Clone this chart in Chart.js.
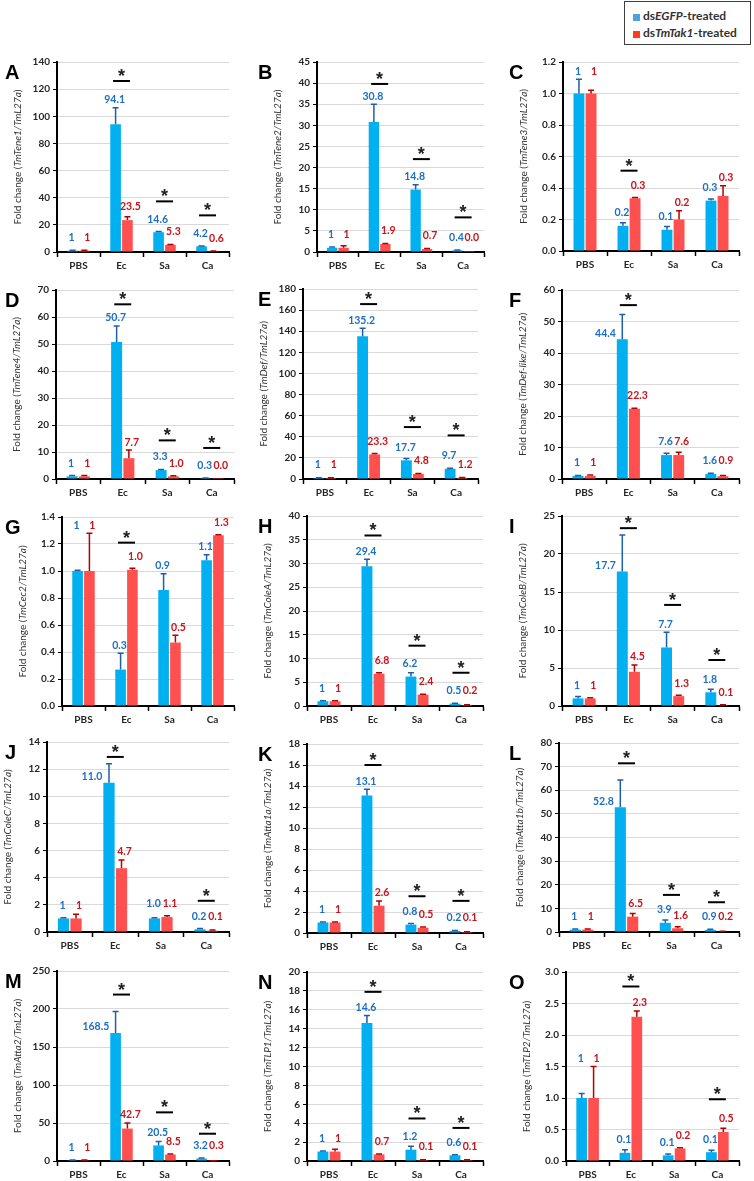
<!DOCTYPE html>
<html>
<head>
<meta charset="utf-8">
<title>Fold change of AMP genes</title>
<script src="https://cdn.jsdelivr.net/npm/chart.js@4.4.0/dist/chart.umd.min.js"></script>
<style>
  body { margin: 0; background: #fff; width: 754px; height: 1181px; position: relative; overflow: hidden; }
  canvas { position: absolute; }
  .letter { position: absolute; font: bold 20px "Liberation Sans", Arial, sans-serif; line-height: 20px; color: #000; }
  #legend { position: absolute; left: 624px; top: 1px; width: 125px; height: 42px; border: 1.5px solid #404040; font: bold 12px Lato, sans-serif; color: #333; }
  #legend .sw { position: absolute; left: 8px; width: 7px; height: 7px; }
  #legend .tx { position: absolute; left: 18px; line-height: 14px; white-space: nowrap; }
  #legend i { font-style: italic; }
</style>
</head>
<body>
<div id="legend">
  <div class="sw" style="top:12px;background:#4aa3e0"></div>
  <div class="tx" style="top:7px">ds<i>EGFP</i>-treated</div>
  <div class="sw" style="top:29px;background:#ff3b1f"></div>
  <div class="tx" style="top:24px">ds<i>TmTak1</i>-treated</div>
</div>
<script>
// Data
const categories = ['PBS', 'Ec', 'Sa', 'Ca'];
const panelLetters = ['A', 'B', 'C', 'D', 'E', 'F', 'G', 'H', 'I', 'J', 'K', 'L', 'M', 'N', 'O'];
const genes = ['TmTene1', 'TmTene2', 'TmTene3', 'TmTene4', 'TmDef', 'TmDef-like', 'TmCec2', 'TmColeA',
    'TmColeB', 'TmColeC', 'TmAtta1a', 'TmAtta1b', 'TmAtta2', 'TmTLP1', 'TmTLP2'];
const axisMax = [140, 45, 1.2, 70, 180, 60, 1.4, 40, 25, 14, 18, 80, 250, 20, 3.0];
const axisStep = [20, 5, 0.2, 10, 20, 10, 0.2, 5, 5, 2, 2, 10, 50, 2, 0.5];

// dsEGFP-treated (blue)
const egfpMean = [
    [1, 94.1, 14.6, 4.2],    // A
    [1, 30.8, 14.8, 0.4],    // B
    [1, 0.16, 0.135, 0.32],  // C
    [1, 50.7, 3.3, 0.3],     // D
    [1, 135.2, 17.7, 9.7],   // E
    [1, 44.4, 7.6, 1.6],     // F
    [1, 0.27, 0.86, 1.08],   // G
    [1, 29.4, 6.2, 0.5],     // H
    [1, 17.7, 7.7, 1.8],     // I
    [1, 11.0, 1.0, 0.2],     // J
    [1, 13.1, 0.8, 0.2],     // K
    [1, 52.8, 3.9, 0.9],     // L
    [1, 168.5, 20.5, 3.2],   // M
    [1, 14.6, 1.2, 0.6],     // N
    [1, 0.13, 0.09, 0.14],   // O
];
const egfpSD = [
    [0.3, 12.2, 0.5, 0.3],
    [0.2, 4.2, 1.1, 0.1],
    [0.09, 0.02, 0.02, 0.01],
    [0.3, 6.0, 0.2, 0.1],
    [0.3, 7.5, 1.8, 0.5],
    [0.1, 7.8, 0.6, 0.2],
    [0.005, 0.12, 0.12, 0.04],
    [0.1, 1.5, 0.8, 0.1],
    [0.25, 4.8, 2.0, 0.4],
    [0.05, 1.4, 0.05, 0.05],
    [0.05, 0.6, 0.1, 0.03],
    [0.3, 11.5, 1.2, 0.3],
    [0.3, 28.3, 5.3, 0.8],
    [0.05, 0.8, 0.35, 0.05],
    [0.07, 0.05, 0.02, 0.03],
];
const egfpText = [
    ['1', '94.1', '14.6', '4.2'],
    ['1', '30.8', '14.8', '0.4'],
    ['1', '0.2', '0.1', '0.3'],
    ['1', '50.7', '3.3', '0.3'],
    ['1', '135.2', '17.7', '9.7'],
    ['1', '44.4', '7.6', '1.6'],
    ['1', '0.3', '0.9', '1.1'],
    ['1', '29.4', '6.2', '0.5'],
    ['1', '17.7', '7.7', '1.8'],
    ['1', '11.0', '1.0', '0.2'],
    ['1', '13.1', '0.8', '0.2'],
    ['1', '52.8', '3.9', '0.9'],
    ['1', '168.5', '20.5', '3.2'],
    ['1', '14.6', '1.2', '0.6'],
    ['1', '0.1', '0.1', '0.1'],
];

// dsTmTak1-treated (red)
const tak1Mean = [
    [1, 23.5, 5.3, 0.6],
    [1, 1.9, 0.7, 0.02],
    [1, 0.335, 0.2, 0.35],
    [1, 7.7, 1.0, 0.04],
    [1, 23.3, 4.8, 1.2],
    [1, 22.3, 7.6, 0.9],
    [1, 1.01, 0.47, 1.265],
    [1, 6.8, 2.4, 0.2],
    [1, 4.5, 1.3, 0.1],
    [1, 4.7, 1.1, 0.1],
    [1, 2.6, 0.5, 0.1],
    [1, 6.5, 1.6, 0.2],
    [1, 42.7, 8.5, 0.3],
    [1, 0.7, 0.1, 0.1],
    [1, 2.29, 0.2, 0.46],
];
const tak1SD = [
    [0.3, 2.5, 0.3, 0.2],
    [0.5, 0.1, 0.1, 0],
    [0.02, 0.005, 0.055, 0.065],
    [0.3, 3.0, 0.2, 0],
    [0.2, 0.8, 0.5, 0.3],
    [0.3, 0.2, 0.9, 0.2],
    [0.28, 0.01, 0.055, 0.003],
    [0.1, 0.2, 0.1, 0.05],
    [0.1, 0.9, 0.1, 0.05],
    [0.3, 0.6, 0.1, 0.05],
    [0.05, 0.45, 0.08, 0.02],
    [0.3, 1.3, 0.6, 0.1],
    [0.3, 7.3, 0.8, 0.1],
    [0.25, 0.05, 0.02, 0.02],
    [0.5, 0.09, 0.01, 0.06],
];
const tak1Text = [
    ['1', '23.5', '5.3', '0.6'],
    ['1', '1.9', '0.7', '0.0'],
    ['1', '0.3', '0.2', '0.3'],
    ['1', '7.7', '1.0', '0.0'],
    ['1', '23.3', '4.8', '1.2'],
    ['1', '22.3', '7.6', '0.9'],
    ['1', '1.0', '0.5', '1.3'],
    ['1', '6.8', '2.4', '0.2'],
    ['1', '4.5', '1.3', '0.1'],
    ['1', '4.7', '1.1', '0.1'],
    ['1', '2.6', '0.5', '0.1'],
    ['1', '6.5', '1.6', '0.2'],
    ['1', '42.7', '8.5', '0.3'],
    ['1', '0.7', '0.1', '0.1'],
    ['1', '2.3', '0.2', '0.5'],
];

// height of the significance bar (*), null = not significant
const sigLevel = [
    [null, 126, 37.3, 27],
    [null, 39.8, 22, 8.2],
    [null, 0.51, null, null],
    [null, 64.7, 14.3, 11.5],
    [null, 165.7, 49.2, 41.3],
    [null, 55.2, null, null],
    [null, 1.21, null, null],
    [null, 35.9, 12.7, 7.0],
    [null, 23.4, 13.3, 6.05],
    [null, 12.9, null, 2.3],
    [null, 16.0, 3.5, 3.06],
    [null, 71.4, 15.7, 12.6],
    [null, 219, 64, 35.9],
    [null, 17.9, 4.5, 3.5],
    [null, 2.77, null, 0.98],
];

// plot area of every panel: left, right, top, bottom
const boxes = [
    [57, 229, 62, 252], [317, 484, 62, 252], [563, 739, 62, 251],
    [56, 234, 290, 479], [303, 478, 289, 479], [562, 739, 290, 479],
    [62, 234, 517, 706], [307, 483, 516, 706], [562, 739, 516, 706],
    [47, 229, 742, 932], [307, 483, 744, 933], [559, 739, 743, 932],
    [57, 229, 971, 1161], [307, 483, 972, 1161], [566, 739, 972, 1161],
];
const letterX = [5, 258, 509];

const ML = 46, PR = 8, PT = 12, MB = 26;
const FONT = 'Lato, sans-serif';

// error bars, value labels, stars and y title
const decor = {
    id: 'decor',
    afterDatasetsDraw(chart, args, opts) {
        const p = opts.panel;
        const ctx = chart.ctx;
        const y = chart.scales.y;
        const x = chart.scales.x;
        const series = [
            { mean: egfpMean[p], sd: egfpSD[p], text: egfpText[p], err: '#1f5fa8', txt: '#1c6fc6', dx: -1 },
            { mean: tak1Mean[p], sd: tak1SD[p], text: tak1Text[p], err: '#b40000', txt: '#c8141c', dx: 3 },
        ];
        // where the labels go
        const pos = series.map((s, d) => chart.getDatasetMeta(d).data.map((bar, i) => {
            const top = y.getPixelForValue(s.mean[i]);
            const errTop = y.getPixelForValue(s.mean[i] + s.sd[i]);
            return { bar, top, errTop, ly: Math.min(top - 13, errTop - 8), lx: bar.x + s.dx, align: 'center' };
        }));
        categories.forEach((c, i) => {
            const a = pos[0][i], b = pos[1][i];
            if (Math.abs(a.top - b.top) < 3) {
                a.ly = b.ly = Math.min(a.ly, b.ly);
            }
            const sig = sigLevel[p][i];
            if (sig === null) return;
            const sy = y.getPixelForValue(sig);
            [a, b].forEach((q) => {
                if (q.ly < sy + 10) {
                    q.ly = q.top - 6;
                    q.lx = q.bar.x - q.bar.width / 2 - 1;
                    q.align = 'right';
                }
            });
        });

        ctx.save();
        series.forEach((s, d) => {
            pos[d].forEach((q, i) => {
                if (s.sd[i] > 0) {
                    ctx.strokeStyle = s.err;
                    ctx.lineWidth = 1.5;
                    ctx.beginPath();
                    ctx.moveTo(q.bar.x, q.top);
                    ctx.lineTo(q.bar.x, q.errTop);
                    ctx.moveTo(q.bar.x - 3, q.errTop);
                    ctx.lineTo(q.bar.x + 3, q.errTop);
                    ctx.stroke();
                }
                ctx.fillStyle = s.txt;
                ctx.font = 'bold 10.5px ' + FONT;
                ctx.textAlign = q.align;
                ctx.textBaseline = 'middle';
                ctx.fillText(s.text[i], q.lx, q.ly);
            });
        });
        sigLevel[p].forEach((v, i) => {
            if (v === null) return;
            const cx = x.getPixelForValue(i);
            const cy = y.getPixelForValue(v);
            ctx.strokeStyle = '#000';
            ctx.lineWidth = 2;
            ctx.beginPath();
            ctx.moveTo(cx - 8.5, cy);
            ctx.lineTo(cx + 8.5, cy);
            ctx.stroke();
            ctx.fillStyle = '#222';
            ctx.font = 'bold 18px "Liberation Sans", Arial, sans-serif';
            ctx.textAlign = 'center';
            ctx.textBaseline = 'alphabetic';
            ctx.fillText('*', cx, cy + 1);
        });
        ctx.restore();
    },
    afterDraw(chart, args, opts) {
        const ctx = chart.ctx;
        const area = chart.chartArea;
        const parts = [
            ['Fold change (', '10px ' + FONT],
            [genes[opts.panel] + '/TmL27a', 'italic 10px ' + FONT],
            [')', '10px ' + FONT],
        ];
        let total = 0;
        parts.forEach((pt) => { ctx.font = pt[1]; total += ctx.measureText(pt[0]).width; });
        ctx.save();
        ctx.translate(area.left - 39, (area.top + area.bottom) / 2);
        ctx.rotate(-Math.PI / 2);
        ctx.fillStyle = '#333';
        ctx.textBaseline = 'middle';
        ctx.textAlign = 'left';
        let pos = -total / 2;
        parts.forEach((pt) => {
            ctx.font = pt[1];
            ctx.fillText(pt[0], pos, 0);
            pos += ctx.measureText(pt[0]).width;
        });
        ctx.restore();
    },
};

panelLetters.forEach((letter, p) => {
    const [L, R, T, B] = boxes[p];
    const canvas = document.createElement('canvas');
    canvas.width = R - L + ML + PR;
    canvas.height = B - T + PT + MB;
    canvas.style.left = (L - ML) + 'px';
    canvas.style.top = (T - PT) + 'px';
    document.body.appendChild(canvas);

    const div = document.createElement('div');
    div.className = 'letter';
    div.textContent = letter;
    div.style.left = letterX[p % 3] + 'px';
    div.style.top = T + 'px';
    document.body.appendChild(div);

    const decimals = axisStep[p] < 1 ? 1 : 0;

    new Chart(canvas, {
        type: 'bar',
        data: {
            labels: categories,
            datasets: [
                { label: 'dsEGFP-treated', data: egfpMean[p], backgroundColor: '#00b0f0', categoryPercentage: 0.55, barPercentage: 0.9 },
                { label: 'dsTmTak1-treated', data: tak1Mean[p], backgroundColor: '#ff5050', categoryPercentage: 0.55, barPercentage: 0.9 },
            ],
        },
        options: {
            responsive: false,
            animation: false,
            devicePixelRatio: 1,
            layout: { padding: { top: PT, right: PR, left: 0, bottom: 0 } },
            plugins: {
                legend: { display: false },
                tooltip: { enabled: false },
                decor: { panel: p },
            },
            scales: {
                x: {
                    grid: { drawOnChartArea: false, offset: true, tickLength: 5, tickColor: '#000', tickWidth: 1.5 },
                    border: { color: '#000', width: 2 },
                    ticks: { color: '#262626', padding: 3, font: { family: FONT, size: 10, weight: 'bold' } },
                    afterFit: (s) => { s.height = MB; },
                },
                y: {
                    min: 0,
                    max: axisMax[p],
                    grid: { color: '#d9d9d9', tickColor: '#000', tickLength: 4 },
                    border: { color: '#000', width: 2 },
                    ticks: {
                        stepSize: axisStep[p],
                        color: '#262626',
                        padding: 3,
                        font: { family: FONT, size: 10, weight: 'bold' },
                        callback: (v) => Number(v).toFixed(decimals),
                    },
                    afterFit: (s) => { s.width = ML; },
                },
            },
        },
        plugins: [decor],
    });
});
</script>
</body>
</html>
